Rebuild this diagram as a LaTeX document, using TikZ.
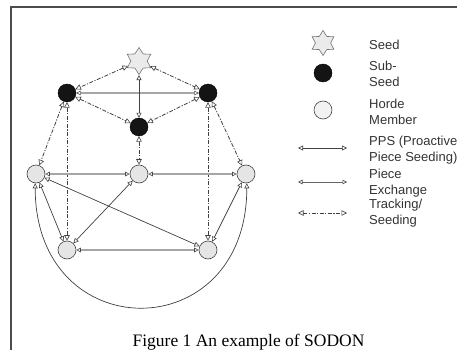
\documentclass[tikz,border=0pt]{standalone}
\usepackage{fontspec}
\setmainfont{Liberation Serif}
\newfontfamily\legendfont{Liberation Sans}
\usetikzlibrary{shapes.geometric,arrows.meta}

\tikzset{
  framerule/.style={draw=black!70, line width=1.1pt},
  seednode/.style={star, star points=6, star point ratio=1.65, minimum size=27pt,
    inner sep=0pt, draw=black!55, fill=black!8, line width=0.6pt, shape border rotate=0},
  subnode/.style={circle, minimum size=18pt, inner sep=0pt, draw=black, fill=black!92},
  hordenode/.style={circle, minimum size=18pt, inner sep=0pt, draw=black!75, fill=black!10, line width=0.6pt},
  pps/.style={draw=black!75, line width=0.7pt,
    {Triangle[open, length=5pt, width=5pt, line width=0.6pt, fill=white]}-{Triangle[open, length=5pt, width=5pt, line width=0.6pt, fill=white]}},
  piece/.style={draw=black!35, line width=1.3pt,
    {Triangle[open, length=4.5pt, width=4.5pt, line width=0.6pt, fill=white, color=black!70]}-{Triangle[open, length=4.5pt, width=4.5pt, line width=0.6pt, fill=white, color=black!70]}},
  track/.style={draw=black!75, line width=0.8pt, dash pattern=on 4pt off 1.5pt on 1.2pt off 1.5pt,
    {Triangle[open, length=5.5pt, width=5.5pt, line width=0.6pt, fill=white]}-{Triangle[open, length=5.5pt, width=5.5pt, line width=0.6pt, fill=white]}},
  legendtext/.style={anchor=west, font=\legendfont\fontsize{13}{16}\selectfont, align=left,
    inner sep=0pt, text=black!80},
}

\begin{document}
\begin{tikzpicture}[x=1pt, y=-1pt]
  \useasboundingbox (0,0) rectangle (457,350);

  % page frame
  \draw[framerule] (11,351) -- (11,7) -- (458,7);

  % nodes
  \node[seednode] (S) at (139,61) {};
  \node[subnode] (A) at (67,93) {};
  \node[subnode] (B) at (208,93) {};
  \node[subnode] (C) at (139,127) {};
  \node[hordenode] (H1) at (36,174) {};
  \node[hordenode] (H2) at (139,174) {};
  \node[hordenode] (H3) at (246,174) {};
  \node[hordenode] (H4) at (67,250) {};
  \node[hordenode] (H5) at (208,250) {};

  % tracking / seeding links
  \draw[track] (S) -- (A);
  \draw[track] (S) -- (B);
  \draw[track] (A) -- (C);
  \draw[track] (B) -- (C);
  \draw[track] (C) -- (H2);
  \draw[track] (A) -- (H1);
  \draw[track] (A) -- (H4);
  \draw[track] (B) -- (H3);
  \draw[track] (B) -- (H5);

  % piece exchange links
  \draw[piece] (A) -- (B);
  \draw[piece] (H1) -- (H2);
  \draw[piece] (H2) -- (H3);
  \draw[piece] (H4) -- (H5);

  % proactive piece seeding links
  \draw[pps] (S) -- (C);
  \draw[pps] (H1) -- (H4);
  \draw[pps] (H3) -- (H5);
  \draw[pps] (H2) -- (H4);
  \draw[pps] (H1) -- (H5);
  \draw[pps] (H1.265) .. controls +(0,165) and +(0,165) .. (H3.275);

  % legend symbols
  \node[seednode, minimum size=25pt] (LS) at (323,43) {};
  \node[subnode] (LA) at (323,73) {};
  \node[hordenode, fill=black!5] (LH) at (323,110) {};
  \coordinate (p1) at (298,148);
  \coordinate (p2) at (347,148);
  \coordinate (q1) at (298,182);
  \coordinate (q2) at (347,182);
  \coordinate (r1) at (298,213);
  \coordinate (r2) at (347,213);
  \draw[pps] (p1) -- (p2);
  \draw[piece, draw=black!60, line width=1pt] (q1) -- (q2);
  \draw[track, line width=0.7pt] (r1) -- (r2);

  % legend labels
  \node[legendtext] (t1) at (369,45) {Seed};
  \node[legendtext] (t2) at (369,74) {Sub-\\Seed};
  \node[legendtext] (t3) at (369,111.5) {Horde\\Member};
  \node[legendtext] (t4) at (369,150.5) {PPS (Proactive\\Piece Seeding)};
  \node[legendtext] (t5) at (369,183) {Piece\\Exchange};
  \node[legendtext] (t6) at (369,213.5) {Tracking/\\Seeding};

  % caption
  \node[anchor=base, inner sep=0pt, font=\fontsize{17.5}{20}\selectfont] (cap) at (248.5,346)
    {Figure 1 An example of SODON};
\end{tikzpicture}
\end{document}
